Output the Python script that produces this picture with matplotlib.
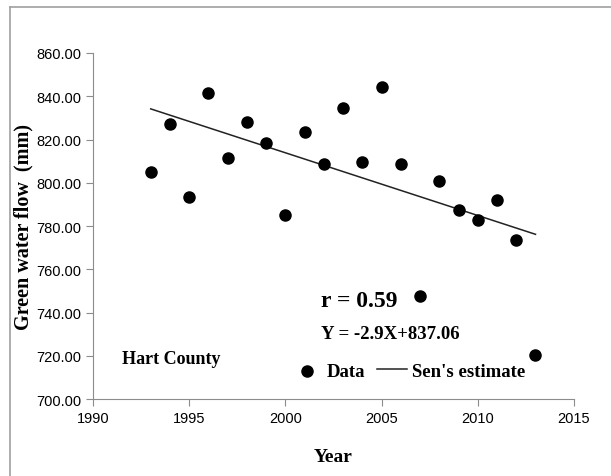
import matplotlib.pyplot as plt
from matplotlib.lines import Line2D

years = [1993, 1994, 1995, 1996, 1997, 1998, 1999, 2000, 2001, 2002, 2003,
         2004, 2005, 2006, 2007, 2008, 2009, 2010, 2011, 2012, 2013]
flow = [805.2, 827.3, 793.4, 841.3, 811.6, 828.0, 818.6, 785.2, 823.6, 808.5,
        834.4, 809.7, 844.5, 808.5, 747.8, 800.9, 787.2, 782.6, 792.1, 773.3, 720.4]

# Sen's estimate: Y = -2.9X + 837.06, X = 1 for 1993
slope = -2.9
intercept = 837.06
sen_x = [years[0], years[-1]]
sen_y = [intercept + slope * (y - years[0] + 1) for y in sen_x]

serif = 'Liberation Serif'
sans = 'Liberation Sans'

fig = plt.figure(figsize=(6.11, 4.77), dpi=100)
ax = fig.add_axes([0.1522, 0.1614, 0.7872, 0.7254])

ax.scatter(years, flow, s=64, color='black', zorder=3, label='Data')
ax.plot(sen_x, sen_y, color='#222222', lw=1.1, label="Sen's estimate")

ax.set_xlim(1990, 2015)
ax.set_ylim(700, 860)
ax.set_xticks(range(1990, 2016, 5))
ax.set_yticks(range(700, 861, 20))
ax.set_yticklabels([f'{v:.2f}' for v in range(700, 861, 20)])

for s in ['top', 'right']:
    ax.spines[s].set_visible(False)
for s in ['left', 'bottom']:
    ax.spines[s].set_color('#8c8c8c')
ax.tick_params(direction='out', length=5, color='#8c8c8c', labelsize=10.5)
for lab in ax.get_xticklabels() + ax.get_yticklabels():
    lab.set_fontfamily(sans)

ax.set_xlabel('Year', fontfamily=serif, fontweight='bold', fontsize=14, labelpad=17)
ax.set_ylabel('Green water flow  (mm)', fontfamily=serif, fontweight='bold',
              fontsize=14.5, labelpad=2)

ax.text(0.06, 0.105, 'Hart County', transform=ax.transAxes, fontfamily=serif,
        fontweight='bold', fontsize=13)
ax.text(0.475, 0.27, 'r = 0.59', transform=ax.transAxes, fontfamily=serif,
        fontweight='bold', fontsize=17)
ax.text(0.475, 0.175, 'Y = -2.9X+837.06', transform=ax.transAxes, fontfamily=serif,
        fontweight='bold', fontsize=13.5)

ax.legend(loc='center left', bbox_to_anchor=(0.414, 0.081), ncol=2, frameon=False,
          prop={'family': serif, 'weight': 'bold', 'size': 13.5},
          handlelength=1.6, handletextpad=0.27, columnspacing=0.6, borderpad=0,
          borderaxespad=0)

# outer frame lines (top and left)
fig.add_artist(Line2D([0.017, 1.0], [0.983, 0.983], color='#a0a0a0', lw=1.2))
fig.add_artist(Line2D([0.017, 0.017], [0.0, 0.983], color='#a0a0a0', lw=1.2))

fig.savefig('out.png', dpi=100)
